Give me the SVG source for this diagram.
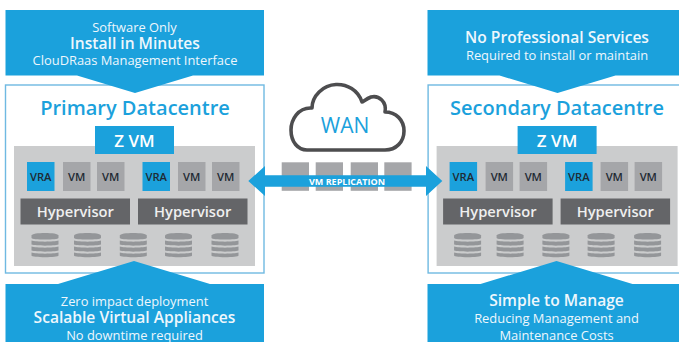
<svg xmlns="http://www.w3.org/2000/svg" xmlns:xlink="http://www.w3.org/1999/xlink" width="679" height="342" viewBox="0 0 679 342">
<style>
text{font-family:"Open Sans","Noto Sans",sans-serif;text-anchor:middle}
.b{fill:#1ba1dc}
.f{fill:#fff;stroke:#6fb9e2;stroke-width:1.4}
.g{fill:#cbcccd}
.vm{fill:#a5a6a9}
.h{fill:#646568}
.d{fill:#949699}
.w{fill:#eef7fc}
.s{font-size:12.900px}
.l{font-size:15.600px;font-weight:600}
.t{font-size:20px;font-weight:600;fill:#1ba1dc}
.z{font-size:17px;font-weight:600;fill:#fff}
.v{font-size:11.200px;font-weight:600;fill:#1f2a33}
.y{font-size:14.700px;font-weight:600;fill:#efefef}
</style>
<defs>
<g id="db">
<path class="d" d="M-13.500 2.500C-13.500 -0.800 13.500 -0.800 13.500 2.500V5C13.500 7 -13.500 7 -13.500 5Z"/>
<path class="d" d="M-13.500 7.500C-9 9 9 9 13.500 7.500V11.500C9 13 -9 13 -13.500 11.500Z"/>
<path class="d" d="M-13.500 13.500C-9 15 9 15 13.500 13.500V17.500C9 19 -9 19 -13.500 17.500Z"/>
<path class="d" d="M-13.500 19.500C-9 21 9 21 13.500 19.500V22.500C13.500 24.800 -13.500 24.800 -13.500 22.500Z"/>
</g>
<g id="dc">
<rect class="f" x="5.500" y="85" width="258.500" height="188"/>
<rect class="g" x="14" y="146" width="241" height="120"/>
<rect class="b" x="95" y="126" width="79" height="28"/>
<text class="z" x="134.500" y="146.500">Z VM</text>
<rect class="b" x="27" y="162" width="27.500" height="29"/><text class="v" x="40.700" y="181">VRA</text>
<rect class="vm" x="63" y="162" width="27.500" height="29"/><text class="v" x="76.700" y="181">VM</text>
<rect class="vm" x="97" y="162" width="27.500" height="29"/><text class="v" x="110.700" y="181">VM</text>
<rect class="b" x="142.500" y="162" width="27.500" height="29"/><text class="v" x="156.200" y="181">VRA</text>
<rect class="vm" x="178" y="162" width="27.500" height="29"/><text class="v" x="191.700" y="181">VM</text>
<rect class="vm" x="212" y="162" width="27.500" height="29"/><text class="v" x="225.700" y="181">VM</text>
<rect class="h" x="20.500" y="198.500" width="109.500" height="26"/><text class="y" x="75.300" y="217">Hypervisor</text>
<rect class="h" x="138" y="198.500" width="109.500" height="26"/><text class="y" x="192.700" y="217">Hypervisor</text>
<use xlink:href="#db" x="45" y="233"/>
<use xlink:href="#db" x="87.500" y="233"/>
<use xlink:href="#db" x="133.300" y="233"/>
<use xlink:href="#db" x="178.500" y="233"/>
<use xlink:href="#db" x="225" y="233"/>
</g>
</defs>
<rect width="679" height="342" fill="#fff"/>
<g id="primary-datacentre">
<use xlink:href="#dc"/>
<text class="t" x="135" y="115">Primary Datacentre</text>
</g>
<g id="secondary-datacentre">
<use xlink:href="#dc" x="422.600"/>
<text class="t" x="557" y="115">Secondary Datacentre</text>
</g>
<g id="callout-top-left">
<path class="b" d="M5.500 10H264V75.500H193L135 93L77 75.500H5.500Z"/>
<text class="s w" x="134.500" y="31.500">Software Only</text>
<text class="l w" x="135" y="49">Install in Minutes</text>
<text class="s w" x="135" y="65">ClouDRaas Management Interface</text>
</g>
<g id="callout-top-right">
<path class="b" d="M427.500 10H679V75.500H615.500L557.500 93L499.500 75.500H427.500Z"/>
<text class="l w" x="557" y="43">No Professional Services</text>
<text class="s w" x="557" y="60">Required to install or maintain</text>
</g>
<g id="callout-bottom-left">
<path class="b" d="M5.500 284H58L134 261L210 284H264V342H5.500Z"/>
<text class="s w" x="134.500" y="306">Zero impact deployment</text>
<text class="l w" x="134.500" y="323">Scalable Virtual Appliances</text>
<text class="s w" x="134.500" y="339.500">No downtime required</text>
</g>
<g id="callout-bottom-right">
<path class="b" d="M427.500 284H480.500L556.500 261L632.500 284H679V342H427.500Z"/>
<text class="l w" x="556.500" y="306">Simple to Manage</text>
<text class="s w" x="556.500" y="323">Reducing Management and</text>
<text class="s w" x="556.500" y="339.500">Maintenance Costs</text>
</g>
<g id="wan">
<path d="M307 150H385C396 150 404 142 404 131C404 120 396 112 385 112C387 102 379 95 371 97C366 99 363 102 362 102C358 90 347 84 336 84.500C323 85 312 96 312 108C298 107 291 120 291 130C291 142 298 150 307 150Z" fill="#fff" stroke="#4d4d4f" stroke-width="3.600" stroke-linejoin="round"/>
<text x="345" y="133" font-size="21" fill="#1ba1dc">WAN</text>
</g>
<g id="connectors">
<rect class="vm" x="281.700" y="162.300" width="27.300" height="28.500"/>
<rect class="vm" x="315.700" y="162.300" width="27.300" height="28.500"/>
<rect class="vm" x="350.700" y="162.300" width="27.300" height="28.500"/>
<rect class="vm" x="384.300" y="162.300" width="27.300" height="28.500"/>
<path class="b" d="M248.300 181L265 166V175.300H426V166L442.300 181L426 196V186.700H265V196Z"/>
<text x="347" y="184.700" font-size="9" font-weight="700" fill="#fff">VM REPLICATION</text>
</g>
</svg>
